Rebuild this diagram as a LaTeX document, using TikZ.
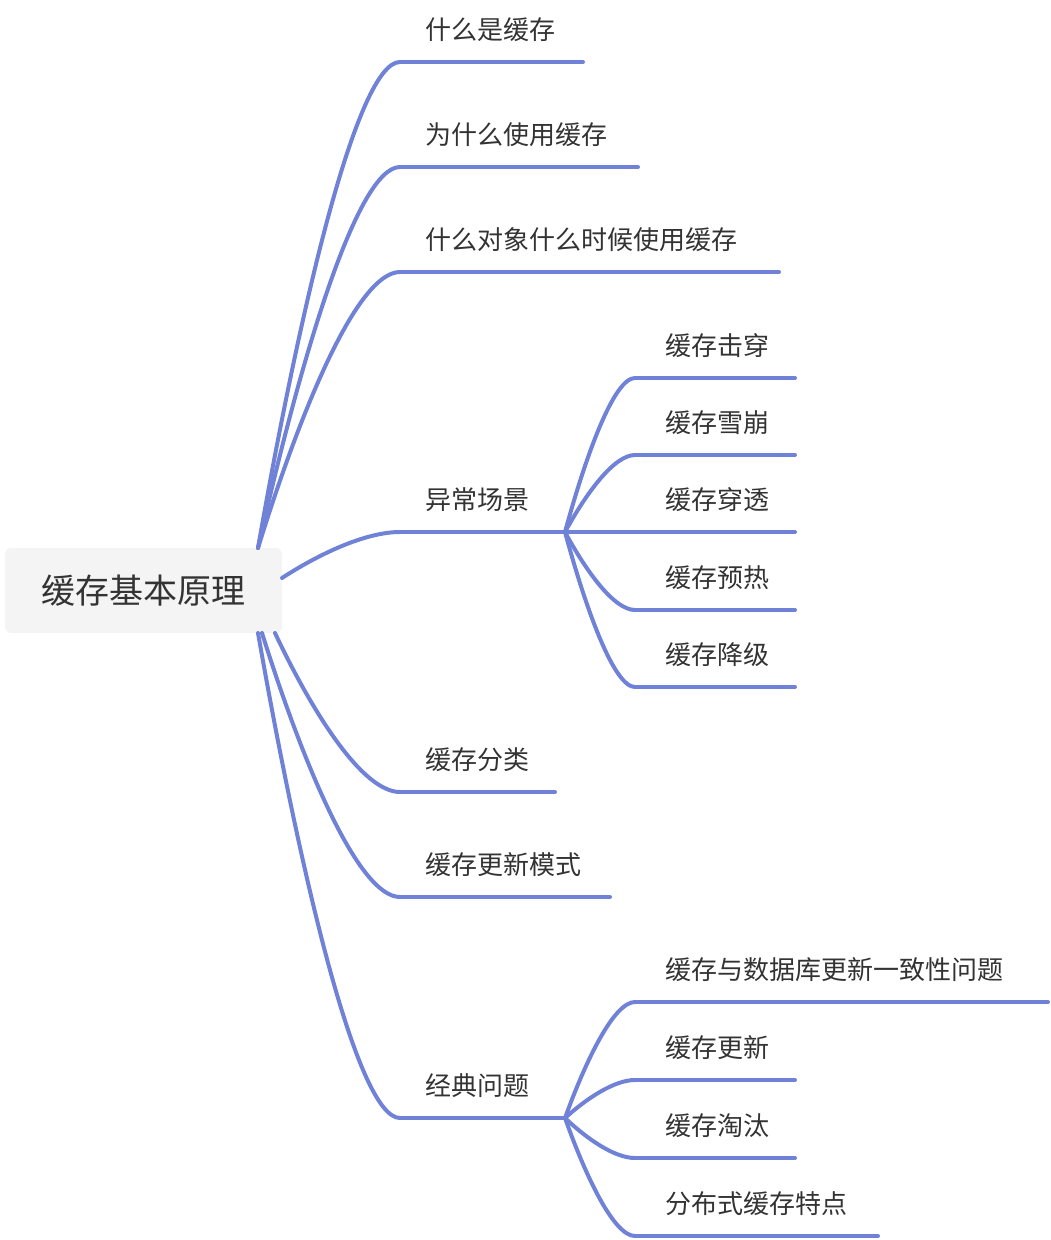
\documentclass[tikz,border=0pt]{standalone}
\usepackage{fontspec}
\setmainfont{Noto Sans CJK SC}
\definecolor{branchBlue}{RGB}{112, 130, 216}
\definecolor{rootGray}{RGB}{244, 244, 244}
\definecolor{textDark}{RGB}{51, 51, 51}
\usetikzlibrary{positioning}
\tikzset{
  branch/.style={draw=branchBlue, line width=4pt, line cap=round},
  leaf/.style={anchor=base west, inner sep=0pt, text=textDark, font=\fontsize{26}{30}\selectfont},
}
% curve from a start to the left end of an underline
\newcommand{\mmcurve}[4]{%
  \draw[branch] (#1,#2) .. controls ({#1+0.3*(#3-#1)},{#2+0.5*(#4-#2)}) and ({#1+0.7*(#3-#1)},#4) .. (#3,#4);}

\begin{document}
\begin{tikzpicture}[x=1pt, y=-1pt]
    \useasboundingbox (0,0) rectangle (1050,1240);

    \node[fill=rootGray, rounded corners=6pt, minimum width=277pt, minimum height=85pt, inner sep=0pt,
      text=textDark, font=\fontsize{34}{40}\selectfont] (root) at (143.5,590.5) {缓存基本原理};

    % first level
    \foreach \name/\txt/\y/\e/\sx/\sy in {
        what/什么是缓存/62/583/258/548,
        why/为什么使用缓存/167/638/258/548,
        when/什么对象什么时候使用缓存/272/779/258/548,
        abn/异常场景/532/565/282/578,
        kind/缓存分类/792/555/275/633,
        mode/缓存更新模式/897/610/262/633,
        classic/经典问题/1118/565/258/633} {
        \mmcurve{\sx}{\sy}{400}{\y}
        \coordinate (\name-l) at (400,\y);
        \coordinate (\name-r) at (\e,\y);
        \draw[branch] (\name-l) -- (\name-r);
        \node[leaf] (\name) at (425,\y-23) {\txt};
    }

    % second level
    \foreach \name/\txt/\y/\e/\py in {
        pierce/缓存击穿/378/795/532,
        avalanche/缓存雪崩/455/795/532,
        penetrate/缓存穿透/532/795/532,
        warm/缓存预热/610/795/532,
        degrade/缓存降级/687/795/532,
        consist/缓存与数据库更新一致性问题/1002/1048/1118,
        update/缓存更新/1080/795/1118,
        evict/缓存淘汰/1158/795/1118,
        dist/分布式缓存特点/1236/878/1118} {
        \mmcurve{565}{\py}{635}{\y}
        \coordinate (\name-l) at (635,\y);
        \coordinate (\name-r) at (\e,\y);
        \draw[branch] (\name-l) -- (\name-r);
        \node[leaf] (\name) at (665,\y-23) {\txt};
    }
\end{tikzpicture}
\end{document}
